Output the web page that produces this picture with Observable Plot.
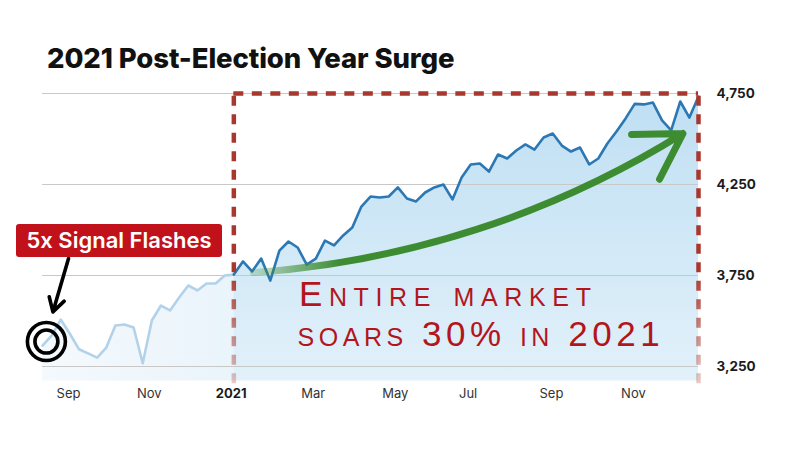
<!DOCTYPE html>
<html>
<head>
<meta charset="utf-8">
<script src="https://cdn.jsdelivr.net/npm/d3@7"></script>
<script src="https://cdn.jsdelivr.net/npm/@observablehq/plot@0.6"></script>
<style>
  body { margin: 0; background: #fff; }
  #wrap { position: relative; width: 800px; height: 450px; overflow: hidden; font-family: Inter, "Open Sans", sans-serif; }
  #chart { position: absolute; left: 0; top: 0; }
  #title { position: absolute; left: 47px; top: 41px; font-size: 27.5px; font-weight: 800; color: #111; white-space: nowrap; letter-spacing: -0.1px; }
  #badge { position: absolute; left: 16px; top: 224px; width: 206px; height: 33px; background: #c1121c; color: #fff; border-radius: 3px;
           font-weight: 600; font-size: 22px; line-height: 33px; text-align: center; white-space: nowrap; }
</style>
</head>
<body>
<div id="wrap">
  <div id="chart"></div>
  <div id="title">2021 Post-Election Year Surge</div>
  <div id="badge">5x Signal Flashes</div>
</div>
<script>
// Weekly closes
const dates = [
  "2020-08-14","2020-08-21","2020-08-28","2020-09-04","2020-09-11","2020-09-18","2020-09-25",
  "2020-10-02","2020-10-09","2020-10-16","2020-10-23","2020-10-30","2020-11-06","2020-11-13",
  "2020-11-20","2020-11-27","2020-12-04","2020-12-11","2020-12-18","2020-12-25","2021-01-01",
  "2021-01-08","2021-01-15","2021-01-22","2021-01-29","2021-02-05","2021-02-12","2021-02-19",
  "2021-02-26","2021-03-05","2021-03-12","2021-03-19","2021-03-26","2021-04-02","2021-04-09",
  "2021-04-16","2021-04-23","2021-04-30","2021-05-07","2021-05-14","2021-05-21","2021-05-28",
  "2021-06-04","2021-06-11","2021-06-18","2021-06-25","2021-07-02","2021-07-09","2021-07-16",
  "2021-07-23","2021-07-30","2021-08-06","2021-08-13","2021-08-20","2021-08-27","2021-09-03",
  "2021-09-10","2021-09-17","2021-09-24","2021-10-01","2021-10-08","2021-10-15","2021-10-22",
  "2021-10-29","2021-11-05","2021-11-12","2021-11-19","2021-11-26","2021-12-03","2021-12-10",
  "2021-12-17","2021-12-24","2021-12-31"
];
const closes = [
  3365, 3420, 3508, 3430, 3345, 3322, 3299,
  3354, 3475, 3481, 3464, 3268, 3503, 3585,
  3558, 3629, 3695, 3668, 3706, 3706, 3750,
  3755, 3827, 3772, 3843, 3722, 3887, 3937,
  3904, 3810, 3843, 3942, 3915, 3970, 4014,
  4129, 4184, 4179, 4184, 4234, 4173, 4157,
  4206, 4234, 4250, 4168, 4288, 4360, 4365,
  4321, 4415, 4393, 4437, 4470, 4442, 4508,
  4530, 4464, 4431, 4453, 4360, 4393, 4475,
  4541, 4613, 4693, 4690, 4700, 4602, 4547,
  4706, 4618, 4733
];
const splitDate = "2021-01-08";           // start of the highlighted 2021 window
const baseValue = 3170;                   // floor of the shaded area

const yTicks = [3250, 3750, 4250, 4750];
const yTickLabels = ["3,250", "3,750", "4,250", "4,750"];

const xTickDates  = ["2020-09-03","2020-11-04","2021-01-06","2021-03-10","2021-05-12","2021-07-07","2021-09-09","2021-11-11"];
const xTickLabels = ["Sep","Nov","2021","Mar","May","Jul","Sep","Nov"];

const handLines = ["Entire market", "soars 30% in 2021"];
const handX = ["2021-02-27", "2021-02-26"];
const handY = [3580, 3362];

const signalArrow = {x1: "2020-09-03", y1: 3843, x2: "2020-08-22", y2: 3550};
const signalRing  = {x: "2020-08-17", y: 3387};
const trendArrow  = {x1: "2021-01-23", y1: 3766, x2: "2021-12-19", y2: 4530};

// ---- build tables ----
const data = dates.map((d, i) => ({date: new Date(d), close: closes[i]}));
const split = new Date(splitDate);
const endDate = new Date(dates[dates.length - 1]);
const pre = data.filter(d => d.date <= split);
const post = data.filter(d => d.date >= split);
const xTicks = xTickDates.map((d, i) => ({date: new Date(d), label: xTickLabels[i]}));
const hand = handLines.map((t, i) => ({text: t, x: new Date(handX[i]), y: handY[i]}));

const defs = () => {
  const d = d3.create("svg:defs");
  const g1 = d.append("linearGradient").attr("id", "blueFill").attr("gradientUnits", "userSpaceOnUse")
    .attr("x1", 0).attr("x2", 0).attr("y1", 93).attr("y2", 383);
  g1.append("stop").attr("offset", 0).attr("stop-color", "#bfdff3");
  g1.append("stop").attr("offset", 1).attr("stop-color", "#e2f1fa");
  const g0 = d.append("linearGradient").attr("id", "paleFill").attr("gradientUnits", "userSpaceOnUse")
    .attr("x1", 42).attr("x2", 232).attr("y1", 0).attr("y2", 0);
  g0.append("stop").attr("offset", 0).attr("stop-color", "#f4f9fd");
  g0.append("stop").attr("offset", 1).attr("stop-color", "#eaf4fb");
  const g2 = d.append("linearGradient").attr("id", "redFade").attr("gradientUnits", "userSpaceOnUse")
    .attr("x1", 0).attr("x2", 0).attr("y1", 270).attr("y2", 385);
  g2.append("stop").attr("offset", 0).attr("stop-color", "#a8372d").attr("stop-opacity", 1);
  g2.append("stop").attr("offset", 1).attr("stop-color", "#a8372d").attr("stop-opacity", 0.25);
  const g3 = d.append("linearGradient").attr("id", "greenFade").attr("gradientUnits", "userSpaceOnUse")
    .attr("x1", 255).attr("x2", 340).attr("y1", 0).attr("y2", 0);
  g3.append("stop").attr("offset", 0).attr("stop-color", "#3e8c32").attr("stop-opacity", 0.25);
  g3.append("stop").attr("offset", 1).attr("stop-color", "#3e8c32").attr("stop-opacity", 1);
  return d.node();
};

const dash = {strokeWidth: 4.5, strokeDasharray: "10,8.5"};

const chart = Plot.plot({
  width: 800, height: 450,
  marginLeft: 42, marginRight: 102, marginTop: 93, marginBottom: 84,
  x: {type: "utc", domain: [data[0].date, endDate], axis: null},
  y: {domain: [3250, 4750], axis: null},
  style: {background: "transparent", overflow: "visible", fontFamily: "Inter, sans-serif"},
  marks: [
    defs,
    Plot.areaY(pre, {x: "date", y1: baseValue, y2: "close", fill: "url(#paleFill)"}),
    Plot.areaY(post, {x: "date", y1: baseValue, y2: "close", fill: "url(#blueFill)"}),
    Plot.ruleY(yTicks, {stroke: "#c8c8c8", strokeWidth: 1}),
    Plot.lineY(pre, {x: "date", y: "close", stroke: "#b2d2ea", strokeWidth: 2.6}),
    Plot.lineY(post, {x: "date", y: "close", stroke: "#2b78b5", strokeWidth: 2.6}),
    Plot.ruleX([split], {y1: 3155, y2: 4750, stroke: "url(#redFade)", ...dash}),
    Plot.ruleX([endDate], {y1: 3155, y2: 4750, stroke: "url(#redFade)", ...dash}),
    Plot.ruleY([{y: 4750, a: split, b: endDate}], {y: "y", x1: "a", x2: "b", stroke: "#a8372d", ...dash}),
    Plot.arrow([trendArrow], {x1: d => new Date(d.x1), y1: "y1", x2: d => new Date(d.x2), y2: "y2",
      bend: -14, stroke: "url(#greenFade)", strokeWidth: 7, headLength: 11, headAngle: 62}),
    Plot.text(hand, {x: "x", y: "y", text: "text", textAnchor: "start", lineAnchor: "bottom",
      fontSize: 35, fontWeight: 400, fontFamily: "'Liberation Sans', Arial, sans-serif", fontVariant: "small-caps", fill: "#b3151d"}),
    Plot.dot([signalRing], {x: d => new Date(d.x), y: "y", r: 19, stroke: "#000", strokeWidth: 3.6, fill: "none"}),
    Plot.dot([signalRing], {x: d => new Date(d.x), y: "y", r: 11.5, stroke: "#000", strokeWidth: 3.6, fill: "none"}),
    Plot.arrow([signalArrow], {x1: d => new Date(d.x1), y1: "y1", x2: d => new Date(d.x2), y2: "y2",
      stroke: "#000", strokeWidth: 3.6, headLength: 6.5, headAngle: 60}),
    Plot.text(yTicks, {x: endDate, y: d => d, text: (d, i) => yTickLabels[i], dx: 18, textAnchor: "start",
      fontSize: 13.5, fontWeight: 700, fill: "#1b1b1b"}),
    Plot.text(xTicks.filter(d => d.label !== "2021"), {x: "date", y: 3250, text: "label", dy: 27,
      fontSize: 13, fill: "#333"}),
    Plot.text(xTicks.filter(d => d.label === "2021"), {x: "date", y: 3250, text: "label", dy: 27,
      fontSize: 13, fontWeight: 700, fill: "#1b1b1b"})
  ]
});

// stretch the hand-lettered note to the reference widths
const handWidths = {"Entire market": 292, "soars 30% in 2021": 362};
d3.select(chart).selectAll("text").each(function() {
  const w = handWidths[this.textContent];
  if (w) d3.select(this).attr("textLength", w).attr("lengthAdjust", "spacing");
});

document.getElementById("chart").appendChild(chart);
</script>
</body>
</html>
